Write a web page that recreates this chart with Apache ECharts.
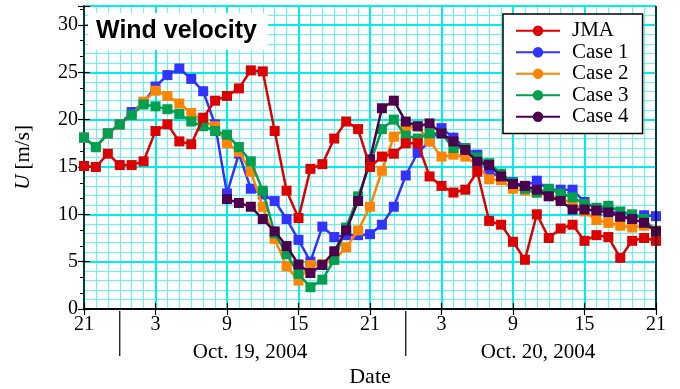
<!DOCTYPE html>
<html><head><meta charset="utf-8">
<script src="https://cdn.jsdelivr.net/npm/echarts@6/dist/echarts.min.js"></script>
<style>html,body{margin:0;padding:0;background:#fff}#c{width:680px;height:389px}</style>
</head><body><div id="c"></div>
<script>
// hours since 21:00 JST, Oct. 18, 2004
const hours = [0,1,2,3,4,5,6,7,8,9,10,11,12,13,14,15,16,17,18,19,20,21,22,23,24,25,26,27,28,29,30,31,32,33,34,35,36,37,38,39,40,41,42,43,44,45,46,47,48];
const xTickLabels = ['21','3','9','15','21','3','9','15','21'];
const dateLabels = ['Oct. 19, 2004','Oct. 20, 2004'];
const dateBreakHours = [3, 27];
const seriesNames = ['JMA','Case 1','Case 2','Case 3','Case 4'];

const jma = [15.1,15.0,16.4,15.2,15.2,15.6,18.8,19.5,17.7,17.4,20.2,22.0,22.5,23.3,25.2,25.1,18.8,12.5,9.6,14.8,15.3,18.0,19.8,19.0,15.0,16.1,16.4,17.5,17.5,14.0,13.0,12.3,12.6,14.5,9.3,8.9,7.1,5.2,10.0,7.5,8.5,8.9,7.2,7.8,7.6,5.4,7.2,7.5,7.2];
const case1 = [18.1,17.1,18.55,19.5,20.8,21.8,23.5,24.7,25.4,24.3,23.0,19.5,12.2,16.4,12.7,12.1,11.4,9.5,7.3,5.0,8.7,7.6,7.8,7.8,7.9,8.9,10.8,14.1,16.5,17.7,19.1,18.1,17.0,16.3,14.4,14.0,13.4,13.0,13.55,12.6,12.6,12.6,11.3,10.6,10.6,9.75,9.6,9.9,9.8];
const case2 = [18.1,17.1,18.55,19.5,20.5,21.9,23.05,22.5,21.7,20.7,19.8,19.3,17.5,16.6,14.5,10.8,7.4,4.5,3.0,4.65,4.75,5.2,6.5,8.3,10.8,14.6,18.2,19.1,19.3,17.7,16.1,16.3,16.1,15.2,13.7,13.6,12.7,12.5,12.3,12.0,11.6,11.2,10.3,9.4,9.1,8.8,8.6,8.8,8.3];
const case3 = [18.1,17.1,18.55,19.5,20.5,21.6,21.4,21.1,20.6,19.8,19.3,18.8,18.4,17.1,15.6,12.5,8.0,5.8,3.7,2.3,3.1,5.2,8.6,11.9,15.3,19.0,20.0,18.3,18.0,18.55,18.55,17.0,17.0,16.0,15.4,14.3,13.3,12.7,12.3,12.7,12.2,11.8,11.1,10.7,10.9,10.3,10.0,9.5,8.2];
const case4 = [null,null,null,null,null,null,null,null,null,null,null,null,11.6,11.2,10.8,9.5,8.2,6.65,4.7,3.8,4.65,6.1,8.3,11.4,15.8,21.2,22.0,19.8,19.3,19.6,18.55,17.7,16.8,15.55,15.2,14.0,13.2,13.0,12.6,11.9,11.4,10.5,10.5,10.4,10.2,9.75,9.5,9.1,8.2];

const colors = ['#dd0000','#3333ff','#ff8400','#00a050','#4d004d'];
const SERIF = '"Liberation Serif","Times New Roman",serif';
const values = [jma, case1, case2, case3, case4];
const drawOrder = [1,2,3,4,0];

function mk(idx){
  const arr = values[idx];
  const data = [];
  hours.forEach((h,i)=>{ if(arr[i]!=null) data.push({value:[h,arr[i]], symbol:'rect'}); });
  return {
    name: seriesNames[idx], type:'line', data: data,
    symbol:'circle', symbolSize: 10, showSymbol:true,
    lineStyle:{color:colors[idx], width:2.5},
    itemStyle:{color:colors[idx]},
    z: 3 + drawOrder.indexOf(idx), animation:false
  };
}

const chart = echarts.init(document.getElementById('c'), null, {renderer:'canvas'});
const major = '#00eeee', minor = '#66f4f4';
chart.setOption({
  animation:false,
  grid:{left:84, top:6, width:572, height:303, containLabel:false, outerBoundsMode:'none'},
  xAxis:[
    {type:'value', min:0, max:48, interval:6, position:'bottom', z:1,
     axisLine:{show:true, lineStyle:{color:'#000', width:1.5}},
     axisTick:{show:true, inside:true, length:6, lineStyle:{color:'#000', width:1.2}},
     axisLabel:{color:'#000', fontFamily:SERIF, fontSize:20, margin:6, formatter:v=>xTickLabels[Math.round(v/6)]},
     splitLine:{show:true, lineStyle:{color:major, width:2}},
     name:'Date', nameLocation:'middle', nameGap:57, nameTextStyle:{color:'#000', fontFamily:SERIF, fontSize:22}},
    {type:'value', min:0, max:48, interval:1, position:'bottom', z:0,
     axisLine:{show:false}, axisTick:{show:false}, axisLabel:{show:false},
     splitLine:{show:true, lineStyle:{color:minor, width:1}}},
    {type:'value', min:0, max:48, interval:6, position:'top', z:1,
     axisLine:{show:true, lineStyle:{color:'#000', width:1.5}},
     axisTick:{show:true, inside:true, length:6, lineStyle:{color:'#000', width:1.2}},
     axisLabel:{show:false}, splitLine:{show:false}}
  ],
  yAxis:[
    {type:'value', min:0, max:32, interval:5, position:'left', z:1,
     axisLine:{show:true, lineStyle:{color:'#000', width:1.5}},
     axisTick:{show:true, inside:true, length:6, lineStyle:{color:'#000', width:1.2}},
     axisLabel:{color:'#000', fontFamily:SERIF, fontSize:20, margin:6, formatter:v=>(v%5===0?String(v):'')},
     splitLine:{show:true, lineStyle:{color:major, width:2}},
     name:'{i|U} [m/s]', nameLocation:'middle', nameGap:50,
     nameTextStyle:{color:'#000', fontFamily:SERIF, fontSize:21, rich:{i:{fontStyle:'italic', fontFamily:SERIF, fontSize:21, color:'#000'}}}},
    {type:'value', min:0, max:32, interval:1, position:'right', z:0,
     axisLine:{show:false}, axisTick:{show:false}, axisLabel:{show:false},
     splitLine:{show:true, lineStyle:{color:minor, width:1}}},
    {type:'value', min:0, max:32, interval:5, position:'right', z:1,
     axisLine:{show:false},
     axisTick:{show:true, inside:true, length:6, lineStyle:{color:'#000', width:1.2}},
     minorTick:{show:true, splitNumber:3, length:4, lineStyle:{color:'#000', width:1}},
     axisLabel:{show:false}, splitLine:{show:false}}
  ],
  legend:{
    orient:'vertical', left:503, top:14, data:seriesNames,
    backgroundColor:'#fff', borderColor:'#000', borderWidth:1.5, borderRadius:0,
    padding:[6,14,6,12], itemWidth:44, itemHeight:13, itemGap:0,
    textStyle:{color:'#000', fontFamily:SERIF, fontSize:21, lineHeight:21.5, padding:[0,0,0,7]},
    selectedMode:false, z:10
  },
  series: drawOrder.map(mk)
});

const xR = chart.convertToPixel({xAxisIndex:0}, 48);
const yTop = chart.convertToPixel({yAxisIndex:0}, 32);
const yBot = chart.convertToPixel({yAxisIndex:0}, 0);
const gfx = [
  {type:'line', z:20, shape:{x1:xR, y1:yTop, x2:xR, y2:yBot}, style:{stroke:'#000', lineWidth:1.5}},
  {type:'rect', z:5, shape:{x:88, y:13, width:180, height:37}, style:{fill:'#fff'}},
  {type:'text', z:6, style:{x:96, y:31.5, text:'Wind velocity', font:'bold 25px "Liberation Sans", Arial, sans-serif', fill:'#000', verticalAlign:'middle'}}
];
dateBreakHours.forEach(h=>{
  const x = chart.convertToPixel({xAxisIndex:0}, h);
  gfx.push({type:'line', z:20, shape:{x1:x, y1:yBot+2, x2:x, y2:yBot+47}, style:{stroke:'#000', lineWidth:1.2}});
});
const dateCenters = [250, 538];
dateLabels.forEach((t,i)=>{
  gfx.push({type:'text', z:20, style:{x:dateCenters[i], y:352, text:t, font:'21px "Liberation Serif", serif', fill:'#000', align:'center', verticalAlign:'middle'}});
});
chart.setOption({graphic:gfx});
</script></body></html>
